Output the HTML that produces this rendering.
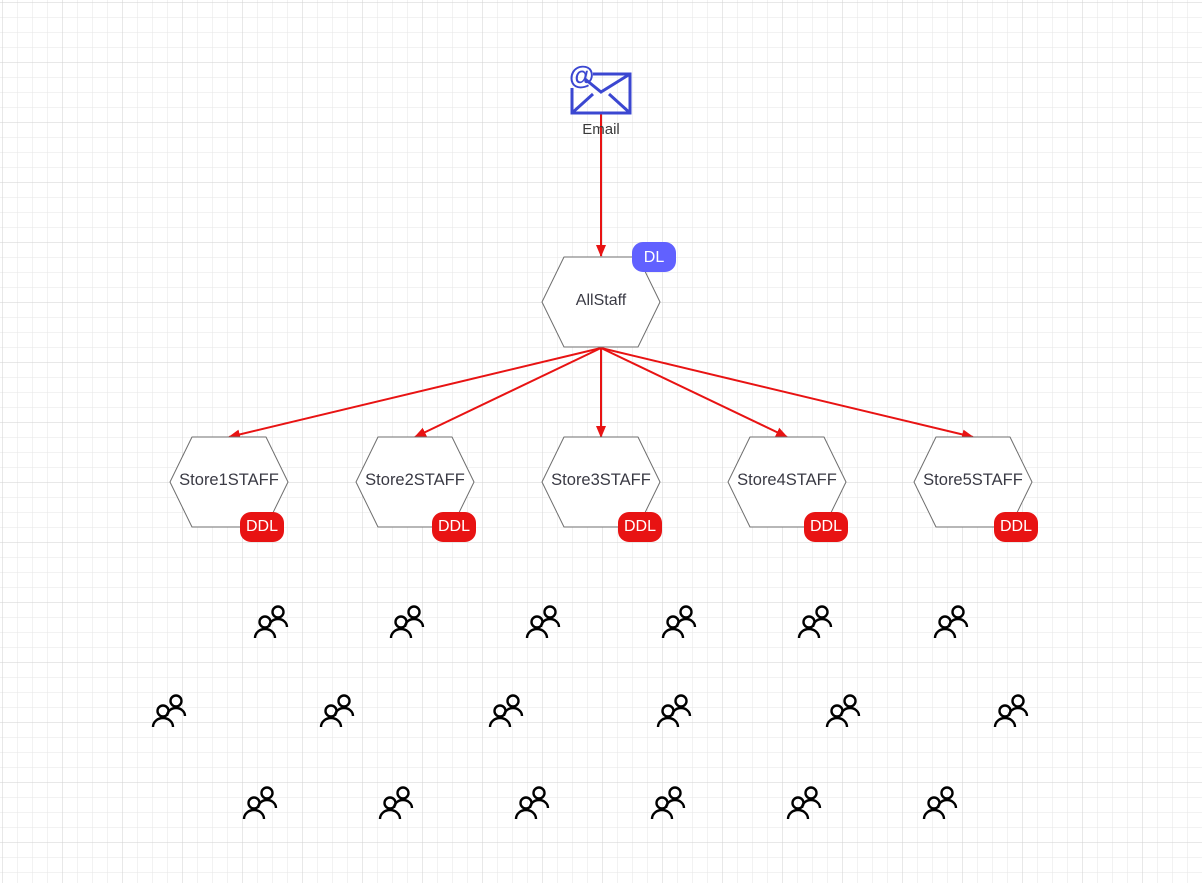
<!DOCTYPE html>
<html><head><meta charset="utf-8"><style>
html,body{margin:0;padding:0;width:1202px;height:883px;overflow:hidden;background:#fff}
svg{display:block}
text{font-family:"Liberation Sans",sans-serif}
</style></head><body>
<svg width="1202" height="883" viewBox="0 0 1202 883">
<defs>
<pattern id="minor" x="2" y="2" width="15" height="15" patternUnits="userSpaceOnUse">
<path d="M0 0H15M0 0V15" stroke="#e6e6e6" stroke-width="1" fill="none"/>
</pattern>
<pattern id="major" x="2" y="2" width="60" height="60" patternUnits="userSpaceOnUse">
<path d="M0 0H60M0 0V60" stroke="#d2d2d2" stroke-width="1" fill="none"/>
</pattern>
<marker id="ar" markerWidth="12" markerHeight="10" refX="11" refY="5" orient="auto" markerUnits="userSpaceOnUse">
<path d="M0 0L12 5L0 10Z" fill="#e81313"/>
</marker>
<g id="hex">
<path d="M-37 -45H37L59 0L37 45H-37L-59 0Z" fill="#fff" stroke="#6f6f6f" stroke-width="1" stroke-linejoin="round"/>
</g>
<g id="ppl" fill="none" stroke="#000" stroke-width="2.4">
<circle cx="24" cy="8" r="5.5"/>
<path d="M15 23a9 8 0 0 1 18 0"/>
<circle cx="11" cy="18" r="5.5"/>
<path d="M1 34a10 9 0 0 1 20 0"/>
</g>
</defs>
<rect width="1202" height="883" fill="url(#minor)"/>
<rect width="1202" height="883" fill="url(#major)"/>

<g stroke="#e81313" stroke-width="2" fill="none" marker-end="url(#ar)">
<line x1="601" y1="113" x2="601" y2="256"/>
<line x1="601" y1="348" x2="229" y2="437"/>
<line x1="601" y1="348" x2="415" y2="437"/>
<line x1="601" y1="348" x2="601" y2="437"/>
<line x1="601" y1="348" x2="787" y2="437"/>
<line x1="601" y1="348" x2="973" y2="437"/>
</g>

<g stroke="#3b47d1" stroke-width="3" fill="none">
<path d="M593 74H630V113H572V88"/>
<path d="M572 113L593 94M630 113L609 94M585 79L601 92L630 74"/>
</g>
<text x="569" y="84" font-size="26" font-weight="bold" fill="#3b47d1">@</text>
<text x="601" y="134" font-size="15" fill="#3a3a3a" text-anchor="middle">Email</text>

<use href="#hex" x="601" y="302"/>
<text x="601" y="305" font-size="16" fill="#3a3a44" text-anchor="middle">AllStaff</text>
<rect x="632" y="242" width="44" height="30" rx="11" fill="#6161ff"/>
<text x="654" y="262" font-size="16" fill="#fff" text-anchor="middle">DL</text>

<g>
<use href="#hex" x="229" y="482"/><text x="229" y="485" font-size="16.5" fill="#3a3a44" text-anchor="middle">Store1STAFF</text>
<rect x="240" y="512" width="44" height="30" rx="11" fill="#e81313"/><text x="262" y="531" font-size="16" fill="#fff" text-anchor="middle">DDL</text>
<use href="#hex" x="415" y="482"/><text x="415" y="485" font-size="16.5" fill="#3a3a44" text-anchor="middle">Store2STAFF</text>
<rect x="432" y="512" width="44" height="30" rx="11" fill="#e81313"/><text x="454" y="531" font-size="16" fill="#fff" text-anchor="middle">DDL</text>
<use href="#hex" x="601" y="482"/><text x="601" y="485" font-size="16.5" fill="#3a3a44" text-anchor="middle">Store3STAFF</text>
<rect x="618" y="512" width="44" height="30" rx="11" fill="#e81313"/><text x="640" y="531" font-size="16" fill="#fff" text-anchor="middle">DDL</text>
<use href="#hex" x="787" y="482"/><text x="787" y="485" font-size="16.5" fill="#3a3a44" text-anchor="middle">Store4STAFF</text>
<rect x="804" y="512" width="44" height="30" rx="11" fill="#e81313"/><text x="826" y="531" font-size="16" fill="#fff" text-anchor="middle">DDL</text>
<use href="#hex" x="973" y="482"/><text x="973" y="485" font-size="16.5" fill="#3a3a44" text-anchor="middle">Store5STAFF</text>
<rect x="994" y="512" width="44" height="30" rx="11" fill="#e81313"/><text x="1016" y="531" font-size="16" fill="#fff" text-anchor="middle">DDL</text>
</g>

<use href="#ppl" x="254" y="604"/><use href="#ppl" x="390" y="604"/><use href="#ppl" x="526" y="604"/>
<use href="#ppl" x="662" y="604"/><use href="#ppl" x="798" y="604"/><use href="#ppl" x="934" y="604"/>
<use href="#ppl" x="152" y="693"/><use href="#ppl" x="320" y="693"/><use href="#ppl" x="489" y="693"/>
<use href="#ppl" x="657" y="693"/><use href="#ppl" x="826" y="693"/><use href="#ppl" x="994" y="693"/>
<use href="#ppl" x="243" y="785"/><use href="#ppl" x="379" y="785"/><use href="#ppl" x="515" y="785"/>
<use href="#ppl" x="651" y="785"/><use href="#ppl" x="787" y="785"/><use href="#ppl" x="923" y="785"/>
</svg>
</body></html>
